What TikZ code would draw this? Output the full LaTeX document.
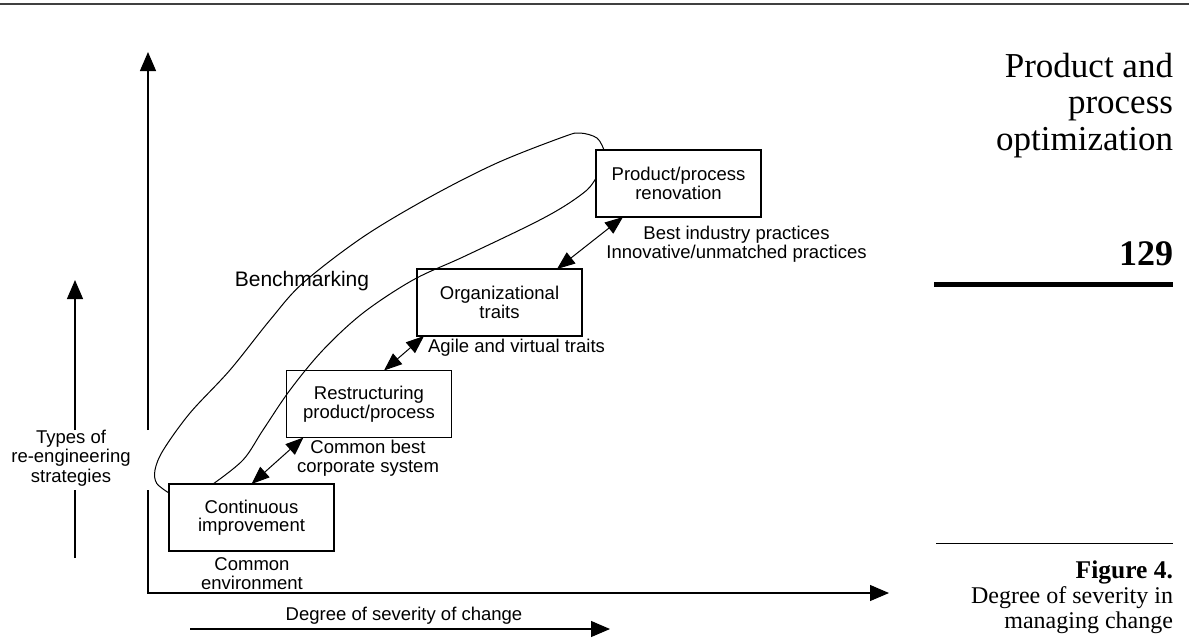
\documentclass[tikz,border=0pt]{standalone}
\usepackage{fontspec}
\setmainfont{Liberation Serif}
\newfontfamily\diagfont{Liberation Sans}
\usetikzlibrary{arrows.meta,calc}

\begin{document}
\begin{tikzpicture}[x=1pt,y=-1pt,
  every node/.style={inner sep=0pt,outer sep=0pt},
  stagebox/.style={draw,line width=1.2pt,minimum width=165pt,minimum height=67pt,
    align=center,font=\diagfont\fontsize{18.5}{18.5}\selectfont},
  note/.style={align=center,font=\diagfont\fontsize{18.5}{19}\selectfont},
  axisarrow/.style={line width=1.2pt,-{Triangle[length=19pt,width=16pt]}},
  pairarrow/.style={line width=1pt,
    {Triangle[length=18pt,width=14pt]}-{Triangle[length=18pt,width=14pt]}},
  benchcurve/.style={line width=1pt},
  headline/.style={anchor=base east,font=\fontsize{35}{36}\selectfont},
  capline/.style={anchor=base east,font=\fontsize{24}{25}\selectfont}
]
\useasboundingbox (0,0) rectangle (1189,638);

% page rule
\draw[line width=1.5pt,black!75] (0,4) -- (1189,4);

% stages of re-engineering
\node[stagebox] (ci) at (251.5,517.5) {Continuous\\improvement};
\node[stagebox] (rs) at (369,404)     {Restructuring\\product/process};
\node[stagebox] (ot) at (499.5,302.5) {Organizational\\traits};
\node[stagebox] (pr) at (678.5,183.5) {Product/process\\renovation};

% labels beside the stages
\node[note] (envlab)   at (252,574)   {Common\\environment};
\node[note] (corplab)  at (368,458.5) {Common best\\corporate system};
\node[note] (agilelab) at (516.5,348) {Agile and virtual traits};
\node[note] (bestlab)  at (736.5,244) {Best industry practices\\Innovative/unmatched practices};
\node[font=\diagfont\fontsize{21}{21}\selectfont] (benchlab) at (302,281) {Benchmarking};
\node[note,font=\diagfont\fontsize{18.5}{19.5}\selectfont] (typeslab) at (71,458)
  {Types of\\re-engineering\\strategies};
\node[note] (degreelab) at (404,616) {Degree of severity of change};

% axes
\coordinate (origin) at (148,593);
\coordinate (ylow)   at (148,490);
\coordinate (yhigh)  at (148,430);
\coordinate (ytop)   at (148,52);
\coordinate (xend)   at (889,593);
\draw[axisarrow] (ylow) -- (origin) -- (xend);
\draw[axisarrow] (yhigh) -- (ytop);

% side arrow for the strategy types
\coordinate (tbot)  at (75,558);
\coordinate (tlow)  at (75,490);
\coordinate (thigh) at (75,430);
\coordinate (ttop)  at (75,280);
\draw[line width=1.2pt] (tbot) -- (tlow);
\draw[axisarrow] (thigh) -- (ttop);

% arrow for the degree of change
\coordinate (dstart) at (190,629);
\coordinate (dend)   at (610,629);
\draw[axisarrow] (dstart) -- (dend);

% links between the stages
\draw[pairarrow] (ci.north) -- ([xshift=17pt]rs.south west);
\draw[pairarrow] ([xshift=15pt]rs.north) -- ([xshift=7pt]ot.south west);
\draw[pairarrow] ([xshift=-25pt]ot.north east) -- ([xshift=27pt]pr.south west);

% benchmarking envelope
\draw[benchcurve] plot[smooth,tension=0.55] coordinates {
  ([yshift=-9pt]ci.north west) (156.7,483.3) (155,470) (163.3,450) (190,413)
  (230,370) (270,320) (303,283) (363,237) (430,197) (497,163) (563,137)
  (580,133) (597,138) ([xshift=8pt]pr.north west)};
\draw[benchcurve] plot[smooth,tension=0.55] coordinates {
  ([yshift=5.5pt]pr.west) (587,190) (563,207) (530,225) (463,257) (413,280)
  (363,313) (323,350) (290,390) (263,430) (243,460) ([xshift=44pt]ci.north west)};

% margin heading
\node[headline] (h1) at (1173,77)  {Product and};
\node[headline] (h2) at (1173,113) {process};
\node[headline] (h3) at (1173,150) {optimization};
\node[anchor=base east,font=\bfseries\fontsize{36}{36}\selectfont] (pagenum) at (1173,265) {129};
\draw[line width=5pt] (934,284) -- (1173,284);

% caption
\draw[line width=1pt] (936,543) -- (1173,543);
\node[capline,font=\bfseries\fontsize{25.5}{25.5}\selectfont] (c1) at (1173,578) {Figure 4.};
\node[capline] (c2) at (1173,603) {Degree of severity in};
\node[capline] (c3) at (1173,628) {managing change};
\end{tikzpicture}
\end{document}
